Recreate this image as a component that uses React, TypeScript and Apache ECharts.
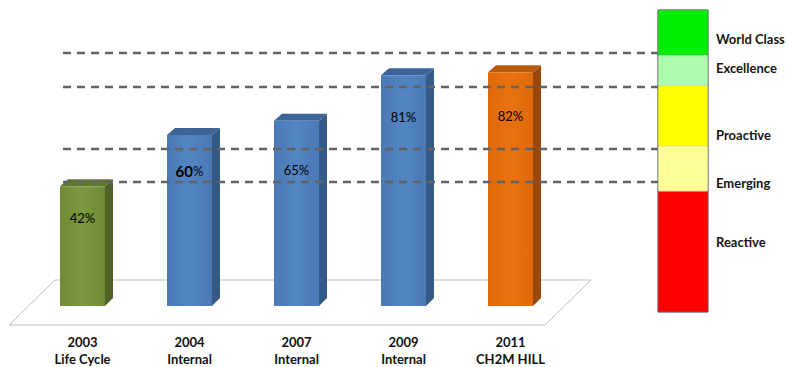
import React, { useEffect, useRef } from "react";
import * as echarts from "echarts";

const categories = ["2003\nLife Cycle", "2004\nInternal", "2007\nInternal", "2009\nInternal", "2011\nCH2M HILL"];
const values = [42, 60, 65, 81, 82];
const boldValue = [false, true, false, false, false];
const thresholds = [88.8, 76.8, 55.1, 43.5];
const bandNames = ["Reactive", "Emerging", "Proactive", "Excellence", "World Class"];
const bandSizes = [40, 15, 20, 10, 15];

// styling
const barFaces = [
  { front: ["#6f8a36", "#7d9a42"], side: "#4f6228", top: "#5f7830" },
  { front: ["#4a7ab6", "#5285c2"], side: "#365a87", top: "#3c6496" },
  { front: ["#4a7ab6", "#5285c2"], side: "#365a87", top: "#3c6496" },
  { front: ["#4a7ab6", "#5285c2"], side: "#365a87", top: "#3c6496" },
  { front: ["#e06a0a", "#e8720f"], side: "#97480a", top: "#b85a0c" },
];
const labelDepth = [32, 36, 49, 42, 44];
const bandColors = ["#ff0000", "#ffff99", "#ffff00", "#acfcac", "#00ee00"];
const bandLabelOffsetY = [-9.5, 14, 19, -2.5, 6.5];

const FONT = "Lato, 'Noto Sans', sans-serif";

export default function App() {
  const ref = useRef<HTMLDivElement>(null);
  useEffect(() => {
    if (!ref.current) return;
    const chart = echarts.init(ref.current, null, { renderer: "svg" });
    const W = 45, DX = 8, DY = 7;
    const option: any = {
      animation: false,
      backgroundColor: "#ffffff",
      textStyle: { fontFamily: FONT },
      grid: [
        { left: 29, width: 535, top: 21, height: 285, outerBoundsMode: "none", containLabel: false },
        { left: 658, width: 50, top: 10, height: 302, show: true, borderColor: "#3a3a3a", borderWidth: 1, backgroundColor: "transparent", outerBoundsMode: "none", containLabel: false },
        { left: 63, width: 595, top: 21, height: 285, outerBoundsMode: "none", containLabel: false },
      ],
      xAxis: [
        {
          gridIndex: 0,
          type: "category",
          data: categories,
          axisLine: { show: false },
          axisTick: { show: false },
          axisLabel: {
            margin: 27,
            fontFamily: FONT,
            fontWeight: "bold",
            fontSize: 13,
            lineHeight: 17,
            color: "#111",
          },
        },
        { gridIndex: 1, type: "category", data: ["scale"], show: false },
        { gridIndex: 2, type: "value", min: 0, max: 1, show: false },
      ],
      yAxis: [
        { gridIndex: 0, type: "value", min: 0, max: 100, show: false },
        { gridIndex: 1, type: "value", min: 0, max: 100, show: false },
        { gridIndex: 2, type: "value", min: 0, max: 100, show: false },
      ],
      graphic: [
        {
          type: "polygon",
          z: 0,
          shape: { points: [[55, 280], [591, 280], [545, 325], [9, 325]] },
          style: { fill: "#ffffff", stroke: "#bdbdbd", lineWidth: 1 },
        },
      ],
      series: [
        {
          type: "custom",
          xAxisIndex: 0,
          yAxisIndex: 0,
          z: 3,
          data: values.map((v, i) => [i, v]),
          renderItem: (params: any, api: any) => {
            const i = params.dataIndex;
            const v = api.value(1);
            const [cx, top] = api.coord([i, v]);
            const [, base] = api.coord([i, 0]);
            const x0 = cx - W / 2;
            const x1 = cx + W / 2;
            const f = barFaces[i];
            const txt = boldValue[i] ? `{b|${v}}{n|%}` : `{n|${v}%}`;
            return {
              type: "group",
              children: [
                {
                  type: "polygon",
                  shape: { points: [[x1, top], [x1 + DX, top - DY], [x1 + DX, base - DY - 1], [x1, base]] },
                  style: { fill: f.side },
                },
                {
                  type: "polygon",
                  shape: { points: [[x0, top], [x0 + DX, top - DY], [x1 + DX, top - DY], [x1, top]] },
                  style: { fill: f.top },
                },
                {
                  type: "rect",
                  shape: { x: x0, y: top, width: W, height: base - top },
                  style: {
                    fill: new echarts.graphic.LinearGradient(0, 0, 1, 0, [
                      { offset: 0, color: f.front[0] },
                      { offset: 0.5, color: f.front[1] },
                      { offset: 1, color: f.front[0] },
                    ]),
                  },
                },
                {
                  type: "text",
                  style: {
                    text: txt,
                    x: cx,
                    y: top + labelDepth[i],
                    align: "center",
                    verticalAlign: "middle",
                    rich: {
                      n: { fontFamily: FONT, fontSize: 13, color: "#1c1c1c" },
                      b: { fontFamily: FONT, fontSize: 15, fontWeight: "bold", color: "#000" },
                    },
                  },
                },
              ],
            };
          },
        },
        ...bandNames.map((name, i) => ({
          type: "bar",
          name,
          xAxisIndex: 1,
          yAxisIndex: 1,
          stack: "scale",
          barWidth: "100%",
          data: [bandSizes[i]],
          itemStyle: { color: bandColors[i], borderColor: "rgba(0,0,0,0.15)", borderWidth: 0.5 },
          label: {
            show: true,
            position: "right",
            distance: 8,
            offset: [0, bandLabelOffsetY[i]],
            formatter: name,
            fontFamily: FONT,
            fontWeight: "bold",
            fontSize: 13,
            color: "#151515",
          },
          z: 2,
        })),
        ...thresholds.map((t) => ({
          type: "line",
          xAxisIndex: 2,
          yAxisIndex: 2,
          data: [[0, t], [1, t]],
          symbol: "none",
          silent: true,
          lineStyle: { type: [8, 6], color: "#636363", width: 2.5 },
          z: 10,
        })),
      ],
    };
    chart.setOption(option);
    return () => chart.dispose();
  }, []);
  return <div ref={ref} style={{ position: "fixed", left: 0, top: 0, width: 788, height: 367 }} />;
}
